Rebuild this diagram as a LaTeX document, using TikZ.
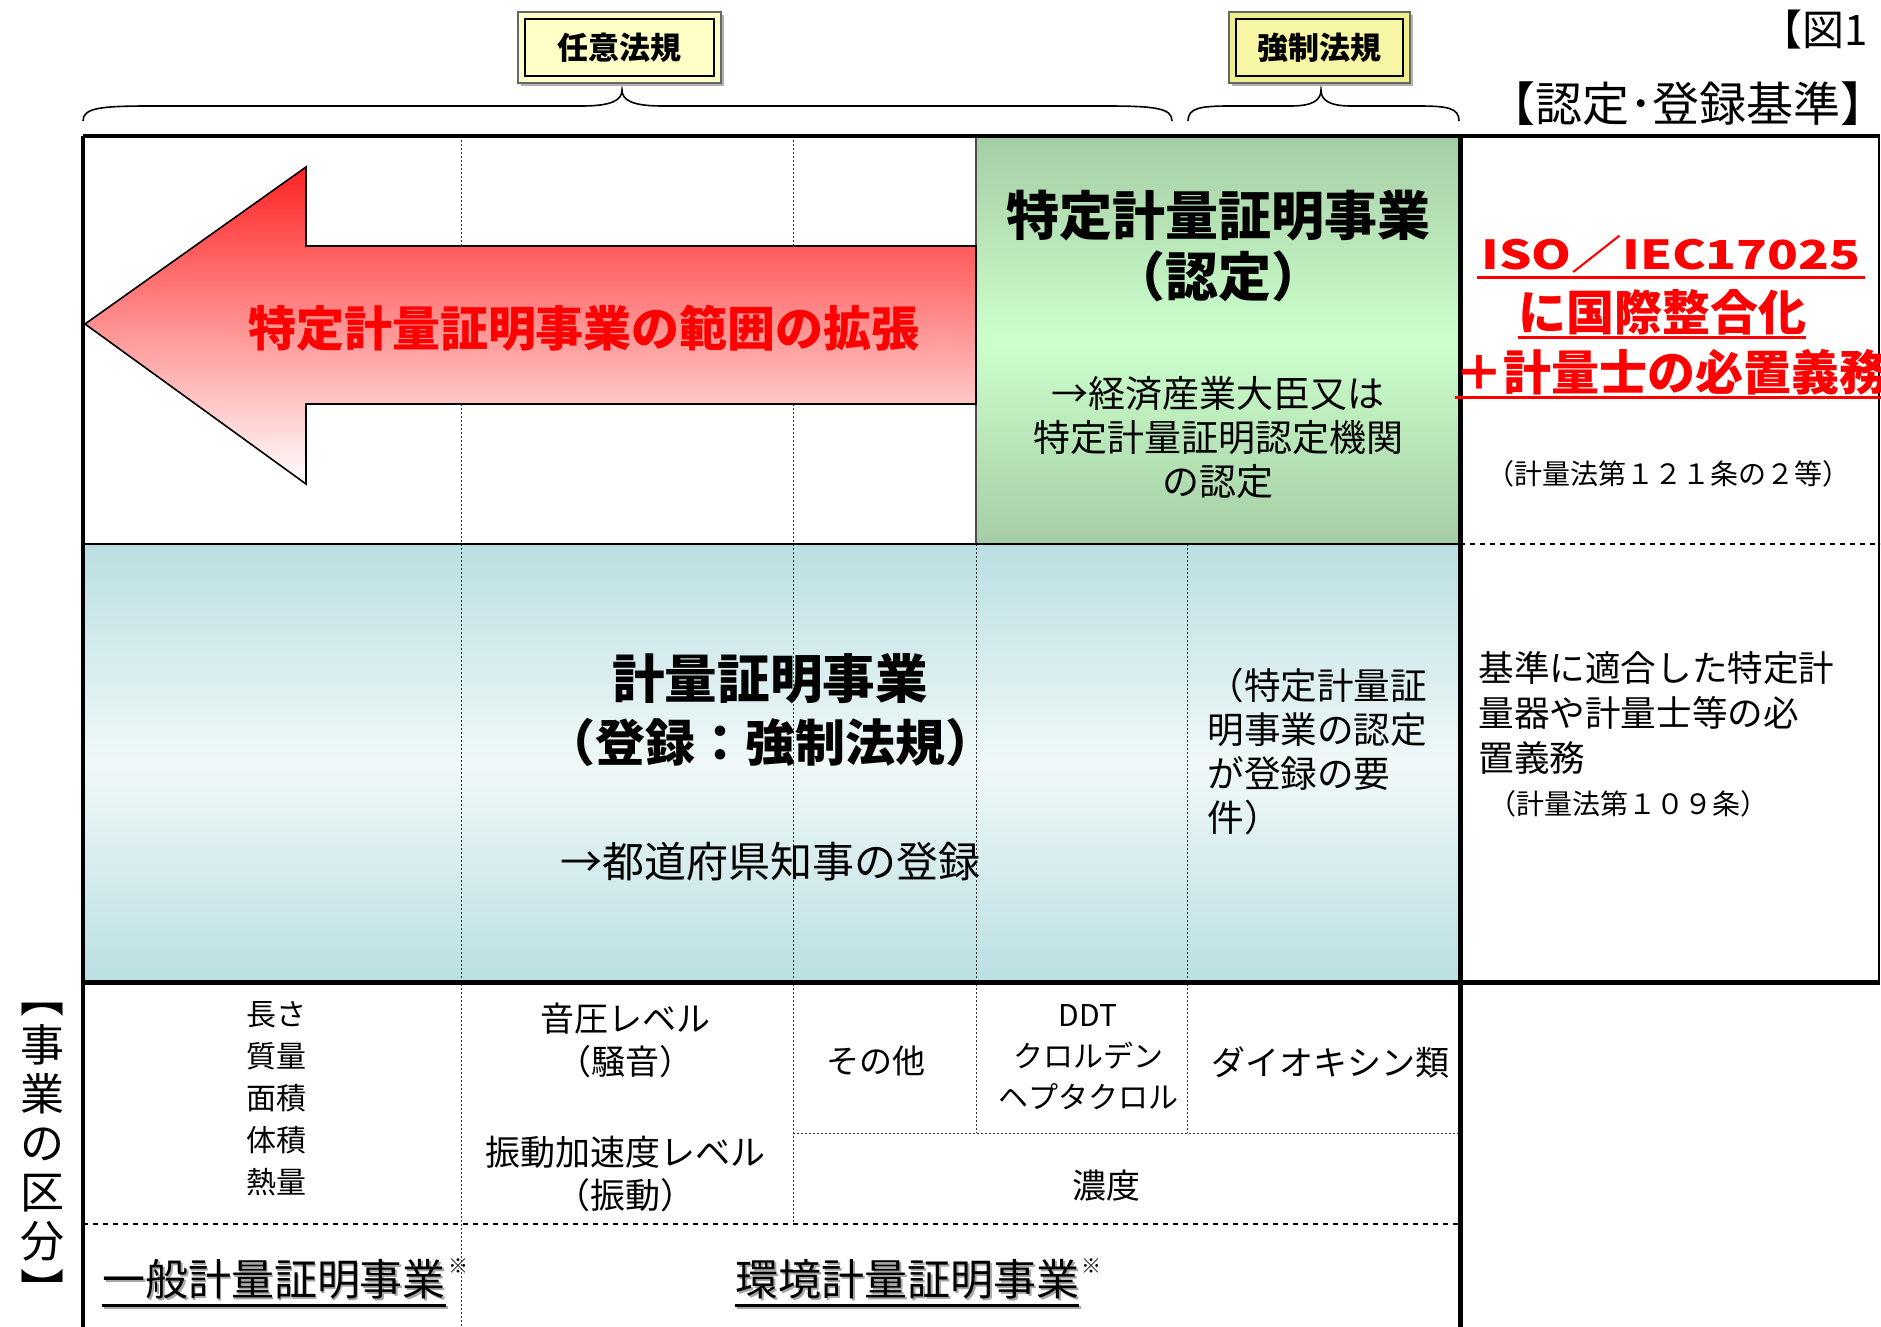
\documentclass[tikz,border=0pt]{standalone}
\usepackage{fontspec}
\setmainfont{Noto Sans CJK JP}
\definecolor{arrowred}{RGB}{255,35,35}
\definecolor{gdark}{RGB}{165,205,165}
\definecolor{glight}{RGB}{204,255,204}
\definecolor{bdark}{RGB}{186,223,226}
\definecolor{blight}{RGB}{240,248,248}
\definecolor{yelpale}{RGB}{255,255,200}
\definecolor{yelstrong}{RGB}{238,238,140}
\definecolor{yelin}{RGB}{246,246,165}
\newcommand\jfs[2]{\fontsize{#1}{#2}\selectfont}
\newcommand\shadowtext[1]{\rlap{\raisebox{-1pt}{\hspace{1pt}\textcolor{black!35}{#1}}}#1}
\begin{document}
\begin{tikzpicture}[x=0.5pt,y=-0.5pt,
  txt/.style={inner sep=0pt, align=center},
  thickline/.style={line width=2pt, black},
  dotline/.style={line width=0.5pt, dash pattern=on 1pt off 1pt, black!80},
  dashline/.style={line width=0.7pt, dash pattern=on 2.5pt off 2.5pt, black},
  bracepath/.style={line width=0.8pt, black},
  redtxt/.style={txt, text=red, font=\bfseries\jfs{24pt}{24pt}},
  redline/.style={red, line width=1.5pt}]

\fill[white] (0,0) rectangle (1881,1327);
\useasboundingbox (0,0) rectangle (1881,1327);

% shaded regions
\shade[top color=bdark, bottom color=bdark, middle color=blight] (83,544) rectangle (1460,982);
\shade[top color=gdark, bottom color=gdark, middle color=glight] (976,136) rectangle (1460,544);
\draw[line width=0.8pt, black!70] (976,136) rectangle (1460,544);

% dotted and dashed lines
\draw[dotline] (461,136) -- (461,1327);
\draw[dotline] (793,136) -- (793,1224);
\draw[dotline] (976,544) -- (976,1133);
\draw[dotline] (1187,544) -- (1187,1133);
\draw[dotline] (793,1133) -- (1460,1133);
\draw[dashline] (83,1224) -- (1460,1224);
\draw[dashline] (1460,544) -- (1880,544);

% arrow
\shadedraw[top color=arrowred, bottom color=white, line width=0.8pt]
  (85,324) -- (306,167) -- (306,246) -- (976,246) -- (976,404) -- (306,404) -- (306,484) -- cycle;

% table lines
\draw[thickline] (83,136) -- (1880,136);
\draw[thickline] (83,136) -- (83,1327);
\draw[line width=2.5pt] (1460,136) -- (1460,1327);
\draw[line width=2.5pt] (83,982) -- (1880,982);
\draw[line width=1.2pt] (83,544) -- (1460,544);
\draw[line width=0.8pt] (1879,136) -- (1879,982);

% braces
\draw[bracepath] (83,121) .. controls (83,108) and (100,106) .. (150,106) -- (582,106)
  .. controls (612,106) and (622,100) .. (622,90)
  .. controls (622,100) and (632,106) .. (662,106) -- (1105,106)
  .. controls (1155,106) and (1172,108) .. (1172,121);
\draw[bracepath] (1188,121) .. controls (1188,108) and (1200,106) .. (1230,106) -- (1291,106)
  .. controls (1313,106) and (1321,100) .. (1321,90)
  .. controls (1321,100) and (1329,106) .. (1351,106) -- (1418,106)
  .. controls (1448,106) and (1459,108) .. (1459,121);

% law boxes
\fill[black!30] (521,15) rectangle (724,86);
\filldraw[fill=yelpale, draw=black!60, line width=0.6pt] (518,12) rectangle (721,83);
\filldraw[fill=yelpale, draw=black, line width=1.2pt] (525,19) rectangle (714,76);
\node[txt, font=\bfseries\jfs{15.5pt}{15.5pt}] (nini) at (619.5,47.5) {任意法規};

\fill[black!30] (1232,15) rectangle (1413,86);
\filldraw[fill=yelstrong, draw=black!60, line width=0.6pt] (1229,12) rectangle (1410,83);
\filldraw[fill=yelin, draw=black, line width=1.2pt] (1236,19) rectangle (1403,76);
\node[txt, font=\bfseries\jfs{15.5pt}{15.5pt}] (kyosei) at (1319.5,47.5) {強制法規};

% header texts
\node[txt, anchor=west, font=\jfs{21pt}{21pt}] (zu) at (1760,30) {【図1};
\node[txt, font=\jfs{23.5pt}{23.5pt}] (kijun) at (1688,104) {【認定･登録基準】};

% green box texts
\node[txt, font=\bfseries\jfs{26.5pt}{26.5pt}] (tokutei) at (1218,216) {特定計量証明事業};
\node[txt, font=\bfseries\jfs{26.5pt}{26.5pt}] (nintei) at (1218,276) {（認定）};
\node[txt, font=\jfs{18.5pt}{22pt}] (daijin) at (1218,438) {→経済産業大臣又は\\特定計量証明認定機関\\の認定};

% arrow text
\node[redtxt] (hani) at (584,328) {特定計量証明事業の範囲の拡張};

% blue region texts
\node[txt, font=\bfseries\jfs{26.3pt}{26.3pt}] (keiryo) at (770,679) {計量証明事業};
\node[txt, font=\bfseries\jfs{25pt}{25pt}] (toroku) at (770,742) {（登録：強制法規）};
\node[txt, font=\jfs{21pt}{21pt}] (chiji) at (770,862) {→都道府県知事の登録};
\node[txt, anchor=west, align=left, font=\jfs{18.3pt}{22pt}] (youken) at (1207,752) {（特定計量証\\明事業の認定\\が登録の要\\件）};

% right column texts
\node[redtxt, font=\bfseries\jfs{20pt}{20pt}] (iso) at (1671,254) {\scalebox{1.27}[1]{ISO／IEC17025}};
\draw[redline] ([xshift=-2pt,yshift=-2pt]iso.south west) -- ([xshift=2pt,yshift=-2pt]iso.south east);
\node[redtxt] (kokusai) at (1662,312) {に国際整合化};
\draw[redline] ([yshift=-1pt]kokusai.south west) -- ([yshift=-1pt]kokusai.south east);
\node[redtxt, anchor=west] (hitchi) at (1455,372) {＋計量士の必置義務};
\draw[redline] ([yshift=-1pt]hitchi.south west) -- ([yshift=-1pt]hitchi.south east);
\node[txt, font=\jfs{14pt}{14pt}] (jo121) at (1668,474) {（計量法第１２１条の２等）};
\node[txt, anchor=west, align=left, font=\jfs{17.8pt}{22.5pt}] (kijun2) at (1478,713) {基準に適合した特定計\\量器や計量士等の必\\置義務};
\node[txt, anchor=west, font=\jfs{14pt}{14pt}] (jo109) at (1488,804) {（計量法第１０９条）};

% lower section texts
\node[txt, font=\jfs{15pt}{21pt}] (ippanq) at (276,1099) {長さ\\質量\\面積\\体積\\熱量};
\node[txt, font=\jfs{17pt}{21.5pt}] (souon) at (625,1040) {音圧レベル\\（騒音）};
\node[txt, font=\jfs{17.5pt}{21.5pt}] (shindo) at (625,1174) {振動加速度レベル\\（振動）};
\node[txt, font=\jfs{16.5pt}{16.5pt}] (sonota) at (876,1061) {その他};
\node[txt, font=\jfs{15pt}{20.5pt}] (ddt) at (1088,1057) {DDT\\クロルデン\\ヘプタクロル};
\node[txt, font=\jfs{17pt}{17pt}] (dioxin) at (1330,1062) {ダイオキシン類};
\node[txt, font=\jfs{17pt}{17pt}] (noudo) at (1106,1186) {濃度};

% bottom labels
\node[txt, font=\jfs{21.5pt}{21.5pt}] (ippan) at (274,1280) {\shadowtext{一般計量証明事業}};
\draw[line width=1.5pt, black!35] ([xshift=1pt,yshift=-3pt]ippan.south west) -- ([xshift=1pt,yshift=-3pt]ippan.south east);
\draw[line width=1.5pt] ([yshift=-2pt]ippan.south west) -- ([yshift=-2pt]ippan.south east);
\node[txt, anchor=north west, font=\jfs{10pt}{10pt}] (ippanmark) at ([xshift=1pt]ippan.north east) {※};

\node[txt, font=\jfs{21.5pt}{21.5pt}] (kankyo) at (907,1280) {\shadowtext{環境計量証明事業}};
\draw[line width=1.5pt, black!35] ([xshift=1pt,yshift=-3pt]kankyo.south west) -- ([xshift=1pt,yshift=-3pt]kankyo.south east);
\draw[line width=1.5pt] ([yshift=-2pt]kankyo.south west) -- ([yshift=-2pt]kankyo.south east);
\node[txt, anchor=north west, font=\jfs{10pt}{10pt}] (kankyomark) at ([xshift=1pt]kankyo.north east) {※};

% vertical label
\node[txt, font=\jfs{22pt}{24.5pt}] (kubun) at (42,1155) {︻\\事\\業\\の\\区\\分\\︼};
\end{tikzpicture}
\end{document}
